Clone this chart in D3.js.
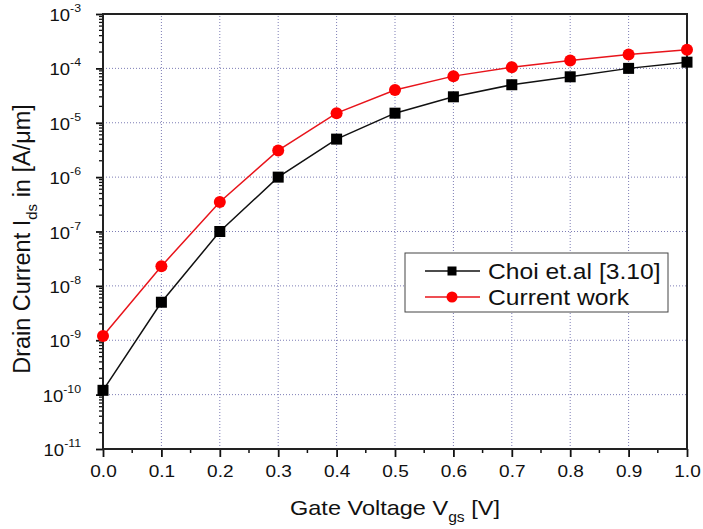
<!DOCTYPE html>
<html>
<head>
<meta charset="utf-8">
<script src="https://cdn.jsdelivr.net/npm/d3@7"></script>
<style>
  body { margin: 0; background: #fff; }
  svg text { font-family: "Liberation Sans", Arial, sans-serif; fill: #111; }
</style>
</head>
<body>
<svg id="chart" width="703" height="529"></svg>
<script>
const vgs = [0.0, 0.1, 0.2, 0.3, 0.4, 0.5, 0.6, 0.7, 0.8, 0.9, 1.0];
const choi = [1.2e-10, 5e-9, 1e-7, 1e-6, 5e-6, 1.5e-5, 3e-5, 5e-5, 7e-5, 1e-4, 1.3e-4];
const current = [1.2e-9, 2.3e-8, 3.5e-7, 3.1e-6, 1.5e-5, 4e-5, 7.2e-5, 1.05e-4, 1.4e-4, 1.8e-4, 2.2e-4];
const xTicks = [0, 0.1, 0.2, 0.3, 0.4, 0.5, 0.6, 0.7, 0.8, 0.9, 1.0];
const yExponents = [-11, -10, -9, -8, -7, -6, -5, -4, -3];
const seriesNames = ['Choi et.al [3.10]', 'Current work'];

const margin = { left: 103, right: 16, top: 14, bottom: 80 };
const width = 703, height = 529;
const stretch = 1.12; // the original text is a bit wider than Arial
const svg = d3.select('#chart');

const xs = d3.scaleLinear().domain([0, 1]).range([margin.left, width - margin.right]);
const ys = d3.scaleLog().domain([1e-11, 1e-3]).range([height - margin.bottom, margin.top]);

const gridColor = '#7d7db5';

// helper: horizontal text, stretched a bit around its anchor point
const addText = (x, y, size, anchor) => svg.append('g')
    .attr('transform', `translate(${x},${y}) scale(${stretch},1)`)
    .append('text').attr('text-anchor', anchor || 'start').attr('font-size', size);

// grid
const grid = svg.append('g');
grid.selectAll('.gx').data(xTicks.slice(1, -1)).enter().append('line')
    .attr('x1', d => xs(d)).attr('x2', d => xs(d))
    .attr('y1', ys(1e-11)).attr('y2', ys(1e-3))
    .attr('stroke', gridColor).attr('stroke-width', 1).attr('stroke-dasharray', '1,2');
grid.selectAll('.gy').data(yExponents.slice(1, -1)).enter().append('line')
    .attr('x1', xs(0)).attr('x2', xs(1))
    .attr('y1', d => ys(Math.pow(10, d))).attr('y2', d => ys(Math.pow(10, d)))
    .attr('stroke', gridColor).attr('stroke-width', 1).attr('stroke-dasharray', '1,2');

// minor ticks
const minorY = [];
yExponents.slice(0, -1).forEach(e => { for (let k = 2; k <= 9; k++) minorY.push(k * Math.pow(10, e)); });
svg.append('g').selectAll('line').data(minorY).enter().append('line')
    .attr('x1', xs(0) - 4).attr('x2', xs(0))
    .attr('y1', d => ys(d)).attr('y2', d => ys(d))
    .attr('stroke', '#111').attr('stroke-width', 1.3);
const minorX = xTicks.slice(0, -1).map(d => d + 0.05);
svg.append('g').selectAll('line').data(minorX).enter().append('line')
    .attr('x1', d => xs(d)).attr('x2', d => xs(d))
    .attr('y1', ys(1e-11)).attr('y2', ys(1e-11) + 4)
    .attr('stroke', '#111').attr('stroke-width', 1.5);

// axes
const xAxis = svg.append('g')
    .attr('transform', `translate(0,${ys(1e-11)})`)
    .call(d3.axisBottom(xs).tickValues(xTicks).tickFormat(d3.format('.1f')).tickSize(8).tickPadding(0));
xAxis.selectAll('.tick text')
    .attr('font-size', 17).attr('dy', null).attr('y', 28)
    .attr('transform', `scale(${stretch},1)`)
    .style('font-family', '"Liberation Sans", Arial, sans-serif');

const yAxis = svg.append('g')
    .attr('transform', `translate(${xs(0)},0)`)
    .call(d3.axisLeft(ys).tickValues(yExponents.map(e => Math.pow(10, e))).tickFormat('').tickSize(7));

[xAxis, yAxis].forEach(a => {
    a.select('.domain').remove();
    a.selectAll('.tick line').attr('stroke', '#111').attr('stroke-width', 1.8);
});

// y tick labels 10^e
yExponents.forEach(e => {
    const t = addText(81, ys(Math.pow(10, e)) + 7, 16.5, 'end');
    t.append('tspan').text('10');
    t.append('tspan').attr('dy', -9).attr('font-size', 11).text(e);
});

// frame
svg.append('rect')
    .attr('x', xs(0)).attr('y', ys(1e-3))
    .attr('width', xs(1) - xs(0)).attr('height', ys(1e-11) - ys(1e-3))
    .attr('fill', 'none').attr('stroke', '#222').attr('stroke-width', 2);

// series
const line = d3.line().x((d, i) => xs(vgs[i])).y(d => ys(d));
svg.append('path').datum(choi).attr('d', line).attr('fill', 'none').attr('stroke', '#111').attr('stroke-width', 1.5);
svg.append('path').datum(current).attr('d', line).attr('fill', 'none').attr('stroke', '#e8141b').attr('stroke-width', 1.5);

svg.append('g').selectAll('rect').data(choi).enter().append('rect')
    .attr('x', (d, i) => xs(vgs[i]) - 5.5).attr('y', d => ys(d) - 5.5)
    .attr('width', 11).attr('height', 11).attr('fill', '#000');
svg.append('g').selectAll('circle').data(current).enter().append('circle')
    .attr('cx', (d, i) => xs(vgs[i])).attr('cy', d => ys(d)).attr('r', 6)
    .attr('fill', '#f00');

// legend
svg.append('rect').attr('x', 405).attr('y', 253).attr('width', 263).attr('height', 59)
    .attr('fill', '#fff').attr('stroke', '#444').attr('stroke-width', 1);
const legendRows = [
    { name: seriesNames[0], color: '#111', marker: 'square', y: 271 },
    { name: seriesNames[1], color: '#e8141b', marker: 'circle', y: 297 }
];
legendRows.forEach(r => {
    svg.append('line').attr('x1', 425).attr('x2', 480).attr('y1', r.y).attr('y2', r.y)
        .attr('stroke', r.color).attr('stroke-width', 1.5);
    if (r.marker === 'square') {
        svg.append('rect').attr('x', 447.5).attr('y', r.y - 4.5).attr('width', 9).attr('height', 9).attr('fill', '#000');
    } else {
        svg.append('circle').attr('cx', 452).attr('cy', r.y).attr('r', 5.5).attr('fill', '#f00');
    }
    addText(488, r.y + 7.5, 22).text(r.name);
});

// axis titles
const xt = addText(395, 515, 21, 'middle');
xt.append('tspan').text('Gate Voltage V');
xt.append('tspan').attr('dy', 7).attr('font-size', 14).text('gs');
xt.append('tspan').attr('dy', -7).text(' [V]');

const yt = svg.append('text').attr('transform', 'translate(30,239) rotate(-90)')
    .attr('text-anchor', 'middle').attr('font-size', 23.5);
yt.append('tspan').text('Drain Current I');
yt.append('tspan').attr('dy', 7).attr('font-size', 15).text('ds');
yt.append('tspan').attr('dy', -7).text(' in [A/\u03bcm]');
</script>
</body>
</html>
